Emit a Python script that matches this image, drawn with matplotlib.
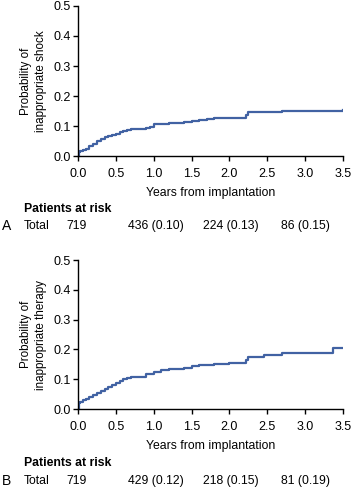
import matplotlib
matplotlib.use("Agg")
from matplotlib import pyplot as plt

plt.rcParams['font.family'] = ['Liberation Sans', 'DejaVu Sans']

# panel A: inappropriate shock
years_a = [0.0, 0.01, 0.03, 0.06, 0.1, 0.15, 0.2, 0.25, 0.3, 0.35, 0.4, 0.45, 0.5, 0.55, 0.6,
           0.65, 0.7, 0.8, 0.9, 0.95, 1.0, 1.1, 1.2, 1.4, 1.5, 1.6, 1.7, 1.8, 2.0, 2.2, 2.22,
           2.25, 2.7, 3.5]
prob_a = [0.0, 0.012, 0.017, 0.021, 0.025, 0.032, 0.04, 0.05, 0.058, 0.062, 0.066, 0.07,
          0.075, 0.079, 0.083, 0.087, 0.089, 0.091, 0.094, 0.098, 0.105, 0.108, 0.111, 0.114,
          0.117, 0.121, 0.124, 0.126, 0.127, 0.127, 0.138, 0.146, 0.150, 0.152]

# panel B: inappropriate therapy
years_b = [0.0, 0.01, 0.03, 0.06, 0.1, 0.15, 0.2, 0.25, 0.3, 0.35, 0.4, 0.45, 0.5, 0.55, 0.6,
           0.65, 0.7, 0.8, 0.9, 1.0, 1.1, 1.2, 1.4, 1.5, 1.6, 1.8, 2.0, 2.2, 2.22, 2.25, 2.45,
           2.7, 3.37, 3.5]
prob_b = [0.0, 0.019, 0.025, 0.029, 0.034, 0.04, 0.047, 0.055, 0.062, 0.068, 0.075, 0.08,
          0.086, 0.093, 0.1, 0.105, 0.107, 0.108, 0.116, 0.123, 0.131, 0.133, 0.138, 0.143,
          0.148, 0.152, 0.153, 0.153, 0.165, 0.175, 0.18, 0.187, 0.206, 0.206]

xticks = [0.0, 0.5, 1.0, 1.5, 2.0, 2.5, 3.0, 3.5]
yticks = [0.0, 0.1, 0.2, 0.3, 0.4, 0.5]

risk_a = ['719', '436 (0.10)', '224 (0.13)', '86 (0.15)']
risk_b = ['719', '429 (0.12)', '218 (0.15)', '81 (0.19)']

W, H = 351, 490
fs = 8.8
fig = plt.figure(figsize=(3.51, 4.90), dpi=100)

def panel(top_px, bot_px, years, prob, ylabel, letter, risk, par_y, tot_y):
    ax = fig.add_axes([78 / W, 1 - bot_px / H, (343 - 78) / W, (bot_px - top_px) / H])
    ax.step(years, prob, where='post', color='#4162a3', lw=1.6)
    ax.set_xlim(0, 3.5)
    ax.set_ylim(0, 0.5)
    ax.set_xticks(xticks)
    ax.set_xticklabels(['%.1f' % t for t in xticks])
    ax.set_yticks(yticks)
    ax.set_yticklabels(['%.1f' % t for t in yticks])
    for s in ['top', 'right']:
        ax.spines[s].set_visible(False)
    for s in ['left', 'bottom']:
        ax.spines[s].set_linewidth(1.0)
    ax.tick_params(direction='out', length=3.5, width=1, labelsize=9)
    ax.tick_params(axis='x', pad=5)
    ax.tick_params(axis='y', pad=1.5)
    ax.set_ylabel(ylabel, fontsize=8.4, labelpad=5, linespacing=1.3)
    ax.set_xlabel('Years from implantation', fontsize=fs, labelpad=5)

    fig.text(24 / W, 1 - par_y / H, 'Patients at risk', fontsize=fs, weight='bold', va='center')
    fig.text(2 / W, 1 - tot_y / H, letter, fontsize=10, va='center')
    fig.text(24 / W, 1 - tot_y / H, 'Total', fontsize=fs, va='center')
    for xp, txt in zip([66, 128, 203, 281], risk):
        fig.text(xp / W, 1 - tot_y / H, txt, fontsize=fs, va='center')
    return ax

panel(6, 156, years_a, prob_a, 'Probability of\ninappropriate shock', 'A', risk_a, 209, 226)
panel(260, 409, years_b, prob_b, 'Probability of\ninappropriate therapy', 'B', risk_b, 463, 481)

fig.savefig('out.png', dpi=100)
